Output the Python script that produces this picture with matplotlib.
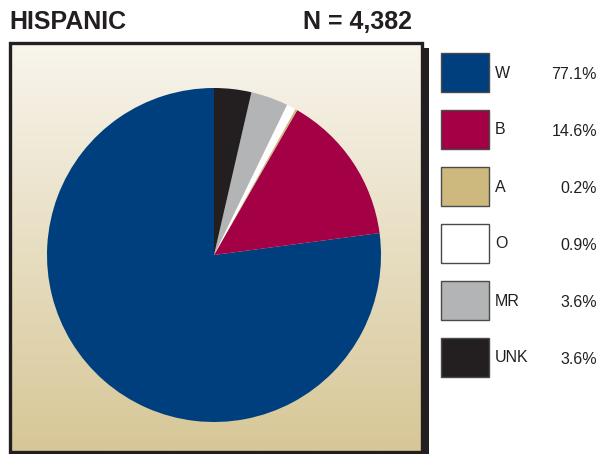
import numpy as np
import matplotlib
matplotlib.use("Agg")
import matplotlib.pyplot as plt
from matplotlib.patches import Rectangle

# ---- data ----
title = "HISPANIC"
n_label = "N = 4,382"
categories = ["W", "B", "A", "O", "MR", "UNK"]
percents = [77.1, 14.6, 0.2, 0.9, 3.6, 3.6]
pct_labels = ["77.1%", "14.6%", "0.2%", "0.9%", "3.6%", "3.6%"]
colors = ["#003F7D", "#A30046", "#CDB97E", "#FFFFFF", "#B3B4B6", "#231F20"]

W, H = 600, 454
fig = plt.figure(figsize=(W / 100, H / 100), dpi=100)
fig.patch.set_facecolor("white")
plt.rcParams["font.family"] = ["Liberation Sans", "DejaVu Sans"]

# background/decoration axes in pixel coordinates
bg = fig.add_axes([0, 0, 1, 1])
bg.set_xlim(0, W)
bg.set_ylim(H, 0)
bg.axis("off")

dark = "#231F20"
# shadow of the box
bg.add_patch(Rectangle((414, 48), 15, 420, facecolor=dark, edgecolor="none", zorder=1))
# gradient fill
grad = np.linspace(0, 1, 256).reshape(-1, 1)
top = np.array([248, 245, 237]) / 255
bot = np.array([215, 199, 151]) / 255
img = top + grad[..., None] * (bot - top)
img = np.repeat(img, 2, axis=1)
bg.imshow(img, extent=(9.5, 421.5, 451.5, 42.5), aspect="auto", zorder=2, interpolation="bilinear")
# box border
bg.add_patch(Rectangle((9.5, 42.5), 412, 409, facecolor="none", edgecolor=dark, linewidth=2.4, zorder=3))
bg.set_xlim(0, W)
bg.set_ylim(H, 0)

# titles
bg.text(9, 22, title, fontsize=18, fontweight="bold", color=dark, va="center", ha="left", zorder=5)
bg.text(412, 22, n_label, fontsize=18, fontweight="bold", color=dark, va="center", ha="right", zorder=5)

# legend
leg_x, leg_w, leg_h = 441, 48, 39
leg_top0, leg_step = 53, 57
for i, (cat, pl, c) in enumerate(zip(categories, pct_labels, colors)):
    y0 = leg_top0 + i * leg_step
    bg.add_patch(Rectangle((leg_x, y0), leg_w, leg_h, facecolor=c, edgecolor="#4a4a4a",
                           linewidth=1.0, zorder=4))
    bg.text(leg_x + leg_w + 6, y0 + leg_h / 2 + 0.5, cat, fontsize=11.5, color=dark,
            va="center", ha="left", zorder=5)
    bg.text(597, y0 + leg_h / 2 + 2, pl, fontsize=11.5, color=dark,
            va="center", ha="right", zorder=5)

# pie
cx, cy, r = 214, 255, 167
pax = fig.add_axes([(cx - r) / W, (H - cy - r) / H, 2 * r / W, 2 * r / H])
pax.pie(percents, colors=colors, startangle=90, counterclock=True, radius=1,
        wedgeprops=dict(linewidth=0, antialiased=True))
pax.set_xlim(-1, 1)
pax.set_ylim(-1, 1)
pax.set_aspect("auto")
pax.axis("off")

fig.savefig("out.png", dpi=100, facecolor="white")
